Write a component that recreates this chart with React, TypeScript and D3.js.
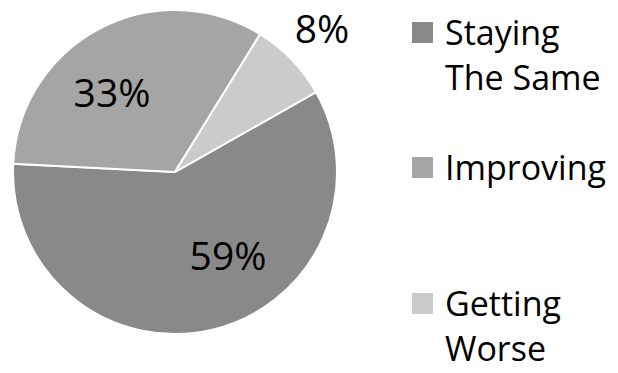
import React from "react";
import * as d3 from "d3";

const categories = ["Staying The Same", "Improving", "Getting Worse"];
const values = [59, 33, 8];
const labels = ["59%", "33%", "8%"];
const colors = ["#898989", "#a5a5a5", "#cbcbcb"];
const legendLines = [["Staying", "The Same"], ["Improving"], ["Getting", "Worse"]];

const W = 618, H = 373;
const cx = 175, cy = 172, R = 162;
const startDeg = 60.5;
const labelPos: [number, number][] = [[228, 270], [112, 107], [322, 43]];
const legendY = [22, 157, 293];

export default function App() {
  const pie = d3.pie<number>().sort(null)
    .startAngle((startDeg * Math.PI) / 180)
    .endAngle((startDeg * Math.PI) / 180 + 2 * Math.PI);
  const arcs = pie(values);
  const arc = d3.arc<d3.PieArcDatum<number>>().innerRadius(0).outerRadius(R);
  const font = "'Open Sans', 'Noto Sans', sans-serif";
  return (
    <svg width={W} height={H} style={{ position: "absolute", left: 0, top: 0, background: "#fff" }}>
      <g transform={`translate(${cx},${cy})`}>
        {arcs.map((a, i) => (
          <path key={i} d={arc(a) || ""} fill={colors[i]} stroke="#fff" strokeWidth={2} />
        ))}
      </g>
      {labels.map((t, i) => (
        <text key={i} x={labelPos[i][0]} y={labelPos[i][1]} textAnchor="middle"
          fontFamily={font} fontSize={39} fill="#000">{t}</text>
      ))}
      {categories.map((c, i) => (
        <g key={c}>
          <rect x={412} y={legendY[i]} width={21} height={21} fill={colors[i]} />
          {legendLines[i].map((ln, j) => (
            <text key={j} x={445} y={legendY[i] + 23 + j * 44.5} fontFamily={font}
              fontSize={34} fill="#000">{ln}</text>
          ))}
        </g>
      ))}
    </svg>
  );
}
